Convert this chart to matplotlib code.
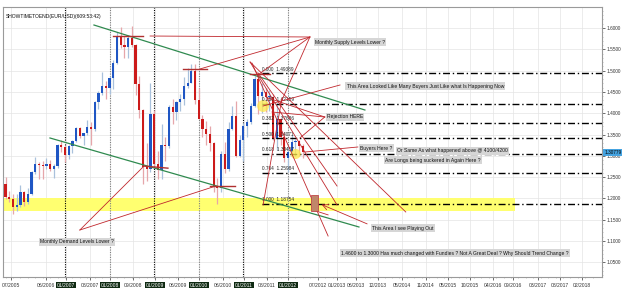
import matplotlib
matplotlib.use('Agg')
import matplotlib.pyplot as plt
from matplotlib.patches import Rectangle, Ellipse
import numpy as np

# ---------------- data: EUR/USD monthly candles (08/2005 .. 05/2012) ----------------
start_year, start_month = 2005, 8
opens = [1.2125, 1.2340, 1.2025, 1.1990, 1.1790,
         1.1840, 1.2150, 1.1910, 1.2115, 1.2620, 1.2810, 1.2790, 1.2770, 1.2810, 1.2680, 1.2760, 1.3250,
         1.3200, 1.3010, 1.3230, 1.3355, 1.3650, 1.3455, 1.3530, 1.3680, 1.3640, 1.4265, 1.4475, 1.4640,
         1.4590, 1.4830, 1.5180, 1.5790, 1.5600, 1.5550, 1.5760, 1.5605, 1.4685, 1.4080, 1.2730, 1.2690,
         1.3970, 1.2800, 1.2670, 1.3250, 1.3240, 1.4150, 1.4035, 1.4260, 1.4330, 1.4640, 1.4720, 1.5000,
         1.4320, 1.3865, 1.3625, 1.3510, 1.3295, 1.2270, 1.2240, 1.3050, 1.2680, 1.3630, 1.3930, 1.3000,
         1.3380, 1.3690, 1.3800, 1.4165, 1.4805, 1.4395, 1.4500, 1.4390, 1.4390, 1.3390, 1.3860, 1.3450,
         1.2960, 1.3080, 1.3320, 1.3340, 1.3235]
highs = [1.2500, 1.2500, 1.2180, 1.2100, 1.2100,
         1.2320, 1.2170, 1.2250, 1.2650, 1.2980, 1.2850, 1.2880, 1.2950, 1.2900, 1.2800, 1.3280, 1.3365,
         1.3220, 1.3250, 1.3370, 1.3680, 1.3680, 1.3540, 1.3850, 1.3800, 1.4280, 1.4530, 1.4965, 1.4750,
         1.4880, 1.5240, 1.5900, 1.6020, 1.5820, 1.5840, 1.6040, 1.5620, 1.4870, 1.4090, 1.3290, 1.4720,
         1.4070, 1.3120, 1.3740, 1.3440, 1.4190, 1.4340, 1.4280, 1.4450, 1.4840, 1.5065, 1.5145, 1.5145,
         1.4580, 1.3960, 1.3820, 1.3690, 1.3320, 1.2470, 1.3110, 1.3335, 1.3790, 1.4160, 1.4280, 1.3500,
         1.3760, 1.3860, 1.4250, 1.4880, 1.4940, 1.4700, 1.4580, 1.4550, 1.4450, 1.4250, 1.3880, 1.3550,
         1.3230, 1.3490, 1.3385, 1.3380, 1.3285]
lows = [1.2080, 1.1990, 1.1915, 1.1640, 1.1705,
        1.1800, 1.1820, 1.1860, 1.2070, 1.2570, 1.2450, 1.2460, 1.2690, 1.2640, 1.2480, 1.2710, 1.3080,
        1.2865, 1.2935, 1.3070, 1.3330, 1.3410, 1.3260, 1.3480, 1.3260, 1.3590, 1.4090, 1.4430, 1.4335,
        1.4440, 1.4560, 1.5160, 1.5520, 1.5285, 1.5300, 1.5545, 1.4430, 1.3880, 1.2330, 1.2420, 1.2620,
        1.2760, 1.2455, 1.2455, 1.2880, 1.3180, 1.3750, 1.3850, 1.4050, 1.4200, 1.4580, 1.4700, 1.4220,
        1.3860, 1.3430, 1.3265, 1.3110, 1.2140, 1.1875, 1.2150, 1.2590, 1.2640, 1.3600, 1.2970, 1.2970,
        1.2870, 1.3430, 1.3750, 1.4150, 1.3970, 1.4000, 1.4030, 1.4055, 1.3360, 1.3140, 1.3245, 1.2860,
        1.2620, 1.3000, 1.3000, 1.3000, 1.2950]
closes = [1.2340, 1.2025, 1.1990, 1.1790, 1.1840,
          1.2150, 1.1910, 1.2115, 1.2620, 1.2810, 1.2790, 1.2770, 1.2810, 1.2680, 1.2760, 1.3250, 1.3200,
          1.3010, 1.3230, 1.3355, 1.3650, 1.3455, 1.3530, 1.3680, 1.3640, 1.4265, 1.4475, 1.4640, 1.4590,
          1.4830, 1.5180, 1.5790, 1.5600, 1.5550, 1.5760, 1.5605, 1.4685, 1.4080, 1.2730, 1.2690, 1.3970,
          1.2800, 1.2670, 1.3250, 1.3240, 1.4150, 1.4035, 1.4260, 1.4330, 1.4640, 1.4720, 1.5000, 1.4320,
          1.3865, 1.3625, 1.3510, 1.3295, 1.2270, 1.2240, 1.3050, 1.2680, 1.3630, 1.3930, 1.3000, 1.3380,
          1.3690, 1.3800, 1.4165, 1.4805, 1.4395, 1.4500, 1.4390, 1.4395, 1.3390, 1.3860, 1.3450, 1.2960,
          1.3080, 1.3320, 1.3340, 1.3235, 1.3078]
current_price = 1.30779

# x axis labels (month index from 07/2005) and price axis
date_labels = ["07/2005", "06/2006", "01/2007", "08/2007", "01/2008", "09/2008", "01/2009", "06/2009",
               "01/2010", "06/2010", "01/2011", "08/2011", "01/2012", "07/2012", "01/2013", "06/2013",
               "12/2013", "05/2014", "11/2014", "05/2015", "10/2015", "04/2016", "09/2016", "03/2017",
               "08/2017", "02/2018"]
date_label_pos = [3.5, 12.9, 18.3, 24.7, 30.1, 36.3, 42.2, 48.4, 54.1, 60.5, 66.2, 72.3, 78.0, 86.1,
                  91.2, 96.3, 102.2, 108.7, 115.1, 121.0, 127.0, 133.1, 138.5, 145.3, 151.2, 157.1]
price_ticks = [1.05, 1.10, 1.15, 1.20, 1.25, 1.30, 1.35, 1.40, 1.45, 1.50, 1.55, 1.60]
year_separators = [18, 30, 42, 54, 66, 78]

# Fibonacci retracement drawn on the chart
fib_ratios = [0.000, 0.236, 0.382, 0.500, 0.618, 0.764, 1.000]
fib_high, fib_low = 1.49389, 1.18754
fib_start = 71.0

# trend lines (month index, price)
green_lines = [((25.8, 1.6070), (98.7, 1.4075)),
               ((13.96, 1.3418), (97.1, 1.1329))]
red_lines = [((40.9, 1.5812), (83.9, 1.5789)),
             ((83.9, 1.5789), (54.3, 1.5038)),
             ((83.9, 1.5789), (69.9, 1.4897)),
             ((83.9, 1.5789), (75.8, 1.4192)),
             ((92.0, 1.4662), (71.3, 1.4169)),
             ((87.9, 1.3911), (72.6, 1.4357)),
             ((87.9, 1.3911), (73.7, 1.4028)),
             ((87.9, 1.3911), (81.2, 1.3418)),
             ((96.8, 1.3207), (82.6, 1.3089)),
             ((22.0, 1.1258), (39.0, 1.2737)),
             ((22.0, 1.1258), (58.6, 1.2291)),
             ((67.8, 1.5202), (109.7, 1.1681)),
             ((68.3, 1.5178), (88.8, 1.1117)),
             ((69.9, 1.4950), (91.2, 1.2291)),
             ((67.8, 1.5202), (91.2, 1.1845)),
             ((71.3, 1.1845), (76.4, 1.4357)),
             ((84.7, 1.1728), (88.8, 1.1613))]
marker_lines = [((30.9, 1.5812), (39.0, 1.5812)),
                ((49.7, 1.5038), (56.2, 1.5038)),
                ((67.8, 1.4925), (73.2, 1.4925)),
                ((39.0, 1.2760), (45.7, 1.2710)),
                ((57.0, 1.2291), (63.7, 1.2291))]

notes = [("Monthly Supply Levels Lower ?", 85.3, 1.5671),
         ("This Area Looked Like Many Buyers Just Like what Is Happening Now", 93.8, 1.4638),
         ("Rejection HERE", 88.5, 1.3911),
         ("Buyers Here ?", 97.4, 1.3183),
         ("Or Same As what happened above @ 4100/4200", 107.3, 1.3113),
         ("Are Longs being suckered in Again Here ?", 104.1, 1.2901),
         ("This Area I see Playing Out", 100.6, 1.1305),
         ("1.4600 to 1.3000 Has much changed with Fundies ? Not A Great Deal ? Why Should Trend Change ?", 92.3, 1.0718),
         ("Monthly Demand Levels Lower ?", 11.3, 1.0977)]

# ---------------- figure ----------------
plt.rcParams['font.family'] = ['Liberation Sans', 'DejaVu Sans']
fig = plt.figure(figsize=(6.25, 2.88), dpi=100)
fig.patch.set_facecolor('white')
ax = fig.add_axes([3 / 625, 11 / 288, 599 / 625, 270 / 288])
ax.set_xlim(1.32, 162.5)
ax.set_ylim(1.0155, 1.6493)

# grid
for p in date_label_pos:
    ax.axvline(p, color='#e4e4e4', lw=0.5, zorder=0)
for p in price_ticks:
    ax.axhline(p, color='#e4e4e4', lw=0.5, zorder=0)

# yellow demand band
ax.add_patch(Rectangle((1.32, 1.170), 139.0 - 1.32, 0.032, facecolor='#ffff70', edgecolor='none', zorder=1))

# year separators
for i, s in enumerate(year_separators):
    ax.axvline(s, color='black' if i % 2 == 0 else '#808080', lw=0.8, ls=(0, (1, 1.2)), zorder=2)

# candles
idx = np.array([(start_year - 2005) * 12 + (start_month - 7) + i for i in range(len(opens))])
o = np.array(opens); h = np.array(highs); l = np.array(lows); c = np.array(closes)
up = c >= o
ax.vlines(idx[up], l[up], h[up], color='#a9c1dc', lw=0.9, zorder=3)
ax.vlines(idx[~up], l[~up], h[~up], color='#e6a6aa', lw=0.9, zorder=3)
ax.bar(idx[up], (c - o)[up], bottom=o[up], width=0.6, color='#1f56c4', zorder=4)
ax.bar(idx[~up], (o - c)[~up], bottom=c[~up], width=0.6, color='#cc1a1a', zorder=4)

# fibonacci
for r in fib_ratios:
    lvl = fib_high - r * (fib_high - fib_low)
    ax.plot([fib_start, 162.5], [lvl, lvl], color='black', lw=1.0, ls=(0, (5, 2, 1, 2)), zorder=5)
    ax.annotate(f"{r:.3f}  {lvl:.5f}", (fib_start, lvl), xytext=(0, 1.2), textcoords='offset points',
                fontsize=3.4, color='#222222', va='bottom', ha='left', zorder=6)

# trend lines
for (a, b) in green_lines:
    ax.plot([a[0], b[0]], [a[1], b[1]], color='#2f8a4f', lw=0.9, zorder=6)
for (a, b) in red_lines:
    ax.plot([a[0], b[0]], [a[1], b[1]], color='#c0272d', lw=0.6, zorder=6)
for (a, b) in marker_lines:
    ax.plot([a[0], b[0]], [a[1], b[1]], color='#b03030', lw=1.0, zorder=6)

# highlights
ax.add_patch(Ellipse((71.3, 1.4169), 3.2, 0.028, facecolor='#ffe84a', alpha=0.75, edgecolor='none', zorder=5))
ax.add_patch(Ellipse((80.1, 1.3042), 2.7, 0.0235, facecolor='#ffe84a', alpha=0.75, edgecolor='none', zorder=5))
ax.add_patch(Rectangle((84.2, 1.170), 1.9, 0.038, facecolor='#c0866a', edgecolor='#c04848', lw=0.6, zorder=6))
ax.annotate("", xy=(86.4, 1.188), xytext=(100.0, 1.1376),
            arrowprops=dict(arrowstyle='->', color='#c0272d', lw=0.6), zorder=6)

# notes
for txt, x, y in notes:
    ax.text(x, y, txt, fontsize=3.6, color='#111111', ha='left', va='center', zorder=8,
            bbox=dict(boxstyle='square,pad=0.25', facecolor='#d6d6d6', edgecolor='none'))

ax.text(0.004, 0.975, "SHOWTIMETOEND(EUR/USD)(609:53:42)", transform=ax.transAxes,
        fontsize=3.6, color='#111111', ha='left', va='top', zorder=8)

# axes styling
for s in ax.spines.values():
    s.set_color('#9a9a9a'); s.set_linewidth(0.8)
ax.yaxis.tick_right()
ax.set_yticks(price_ticks)
ax.set_yticklabels([f"{p:.4f}" for p in price_ticks])
ax.set_yticks(np.arange(1.02, 1.65, 0.01), minor=True)
ax.tick_params(axis='y', which='major', length=2, width=0.5, colors='#333333', labelsize=3.4, pad=1)
ax.tick_params(axis='y', which='minor', length=1, width=0.4, color='#999999')
ax.set_xticks(date_label_pos)
ax.set_xticklabels(date_labels)
ax.set_xticks(np.arange(2, 162, 2), minor=True)
ax.tick_params(axis='x', which='major', length=2, width=0.5, colors='#333333', labelsize=3.6, pad=2)
ax.tick_params(axis='x', which='minor', length=1, width=0.4, color='#999999')
for lab in ax.get_xticklabels():
    if lab.get_text().startswith("01/") and int(lab.get_text()[3:]) <= 2012:
        lab.set_color('white')
        lab.set_bbox(dict(boxstyle='square,pad=0.15', facecolor='#0f2a12', edgecolor='none'))

ax.text(1.004, current_price, f"{current_price:.5f}", transform=ax.get_yaxis_transform(),
        fontsize=3.4, color='black', ha='left', va='center', zorder=9, clip_on=False,
        bbox=dict(boxstyle='square,pad=0.2', facecolor='#45a3e0', edgecolor='none'))

fig.savefig('out.png', dpi=100, facecolor='white')
